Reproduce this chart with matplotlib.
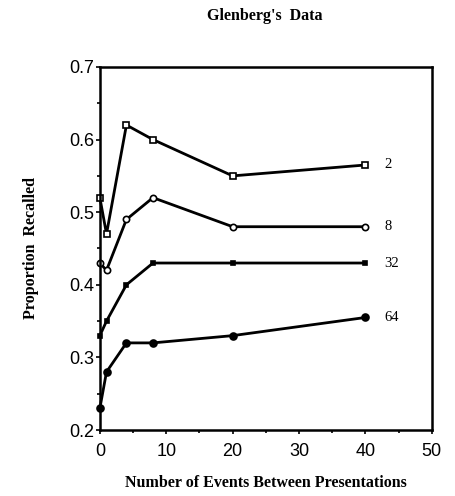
import matplotlib
matplotlib.use("Agg")
import matplotlib.pyplot as plt
from matplotlib.ticker import MultipleLocator

# ── DATA ─────────────────────────────────────────────────────────
events = [0, 1, 4, 8, 20, 40]
recall_2 = [0.52, 0.47, 0.62, 0.60, 0.55, 0.565]
recall_8 = [0.43, 0.42, 0.49, 0.52, 0.48, 0.48]
recall_32 = [0.33, 0.35, 0.40, 0.43, 0.43, 0.43]
recall_64 = [0.23, 0.28, 0.32, 0.32, 0.33, 0.355]
series_labels = ["2", "8", "32", "64"]
# ─────────────────────────────────────────────────────────────────

SERIF = ["Liberation Serif", "DejaVu Serif"]
SANS = ["Liberation Sans", "DejaVu Sans"]

fig = plt.figure(figsize=(4.56, 4.96), dpi=100)
ax = fig.add_axes([0.219, 0.133, 0.728, 0.732])

styles = [
    dict(marker="s", mfc="white", ms=4),
    dict(marker="o", mfc="white", ms=4.5),
    dict(marker="s", mfc="black", ms=3.5),
    dict(marker="o", mfc="black", ms=5),
]
series = [recall_2, recall_8, recall_32, recall_64]
for vals, lab, st in zip(series, series_labels, styles):
    ax.plot(events, vals, color="black", linewidth=2, mec="black", mew=1.2,
            clip_on=False, **st)
    ax.text(events[-1] + 2.8, vals[-1], lab, family=SERIF, fontsize=10.5,
            va="center", ha="left")

ax.set_xlim(0, 50)
ax.set_ylim(0.2, 0.7)
ax.xaxis.set_major_locator(MultipleLocator(10))
ax.xaxis.set_minor_locator(MultipleLocator(5))
ax.yaxis.set_major_locator(MultipleLocator(0.1))
ax.yaxis.set_minor_locator(MultipleLocator(0.05))
ax.tick_params(which="both", direction="out", width=1.2)
ax.tick_params(which="major", length=3, labelsize=13)
ax.tick_params(axis="x", which="major", pad=6)
ax.tick_params(axis="y", which="major", pad=1)
ax.tick_params(which="minor", length=2)
for lbl in ax.get_xticklabels() + ax.get_yticklabels():
    lbl.set_family(SANS)
for sp in ax.spines.values():
    sp.set_linewidth(1.8)

ax.set_xlabel("Number of Events Between Presentations", family=SERIF,
              fontsize=11.5, fontweight="bold", labelpad=11)
ax.set_ylabel("Proportion  Recalled", family=SERIF, fontsize=11.5,
              fontweight="bold", labelpad=22)
fig.text(0.58, 0.968, "Glenberg's  Data", family=SERIF, fontsize=11.5,
         fontweight="bold", ha="center", va="center")

fig.savefig("out.png", dpi=100)
